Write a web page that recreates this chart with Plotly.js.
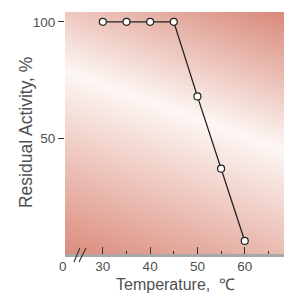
<!DOCTYPE html>
<html>
<head>
<meta charset="utf-8">
<script src="https://cdn.plot.ly/plotly-3.0.1.min.js"></script>
<style>html,body{margin:0;padding:0;background:#fff;}#chart{width:284px;height:295px;}</style>
</head>
<body>
<div id="chart"></div>
<script>
// Data
const temperature = [30, 35, 40, 45, 50, 55, 60];
const residualActivity = [100, 100, 100, 100, 68, 37, 6];
const xTickVals = [30, 40, 50, 60];
const xTickText = ["30", "40", "50", "60"];
const xMinorVals = [35, 45, 55, 65];
const yTickVals = [50, 100];
const yTickText = ["50", "100"];
const xTitle = 'Temperature,  ℃';
const yTitle = 'Residual Activity, %';

// Background gradient image for plot area
function makeBg() {
  const W = 219, H = 242;
  const c = document.createElement('canvas');
  c.width = W; c.height = H;
  const ctx = c.getContext('2d');
  const g = ctx.createLinearGradient(-59, 221, 45, -64);
  g.addColorStop(0, '#db8c7c');
  g.addColorStop(0.57, '#fdf7f4');
  g.addColorStop(1, '#d88878');
  ctx.fillStyle = g;
  ctx.fillRect(0, 0, W, H);
  return c.toDataURL('image/png');
}

const fontFam = '"Liberation Sans", Arial, sans-serif';
const textColor = '#505050';

const trace = {
  x: temperature,
  y: residualActivity,
  mode: 'lines+markers',
  type: 'scatter',
  line: {color: '#222', width: 1.3},
  marker: {symbol: 'circle', size: 7, color: '#fff', line: {color: '#222', width: 1.2}},
  hoverinfo: 'skip'
};

const layout = {
  width: 284, height: 295,
  margin: {l: 65, r: 0, t: 12, b: 41, pad: 0},
  paper_bgcolor: '#fff',
  plot_bgcolor: 'rgba(0,0,0,0)',
  showlegend: false,
  font: {family: fontFam, color: textColor, size: 14},
  xaxis: {
    range: [22, 68.3],
    tickvals: xTickVals, ticktext: xTickText,
    ticks: 'inside', ticklen: 7, tickwidth: 1, tickcolor: '#333',
    minor: {tickvals: xMinorVals, ticks: 'inside', ticklen: 3, tickwidth: 1, tickcolor: '#333'},
    showline: true, linecolor: '#a8a8a8', linewidth: 3,
    showgrid: false, zeroline: false,
    ticklabelstandoff: -2,
    tickfont: {size: 13.5, color: textColor, family: fontFam}
  },
  yaxis: {
    range: [0.4, 104.2],
    tickvals: yTickVals, ticktext: yTickText,
    ticks: 'outside', ticklen: 6, tickwidth: 1, tickcolor: '#333',
    showline: false, showgrid: false, zeroline: false,
    tickfont: {size: 13.5, color: textColor, family: fontFam}
  },
  images: [{
    source: makeBg(), xref: 'paper', yref: 'paper',
    x: 0, y: 1, sizex: 1, sizey: 1, sizing: 'stretch',
    xanchor: 'left', yanchor: 'top', layer: 'below'
  }],
  shapes: [
    {type: 'line', xref: 'paper', yref: 'paper', x0: 0.041, y0: -0.033, x1: 0.068, y1: 0.025, line: {color: '#333', width: 1.1}},
    {type: 'line', xref: 'paper', yref: 'paper', x0: 0.064, y0: -0.033, x1: 0.096, y1: 0.025, line: {color: '#333', width: 1.1}}
  ],
  annotations: [
    {text: '0', xref: 'paper', yref: 'paper', x: -0.008, y: -0.052,
     xanchor: 'center', yanchor: 'middle', showarrow: false,
     font: {size: 13.5, color: textColor, family: fontFam}},
    {text: xTitle, xref: 'paper', yref: 'paper', x: 0.505, y: -0.124,
     xanchor: 'center', yanchor: 'middle', showarrow: false,
     font: {size: 16, color: textColor, family: fontFam}},
    {text: yTitle, xref: 'paper', yref: 'paper', x: -0.178, y: 0.5, textangle: -90,
     xanchor: 'center', yanchor: 'middle', showarrow: false,
     font: {size: 17.5, color: textColor, family: fontFam}}
  ]
};

Plotly.newPlot('chart', [trace], layout, {displayModeBar: false, staticPlot: true});
</script>
</body>
</html>
